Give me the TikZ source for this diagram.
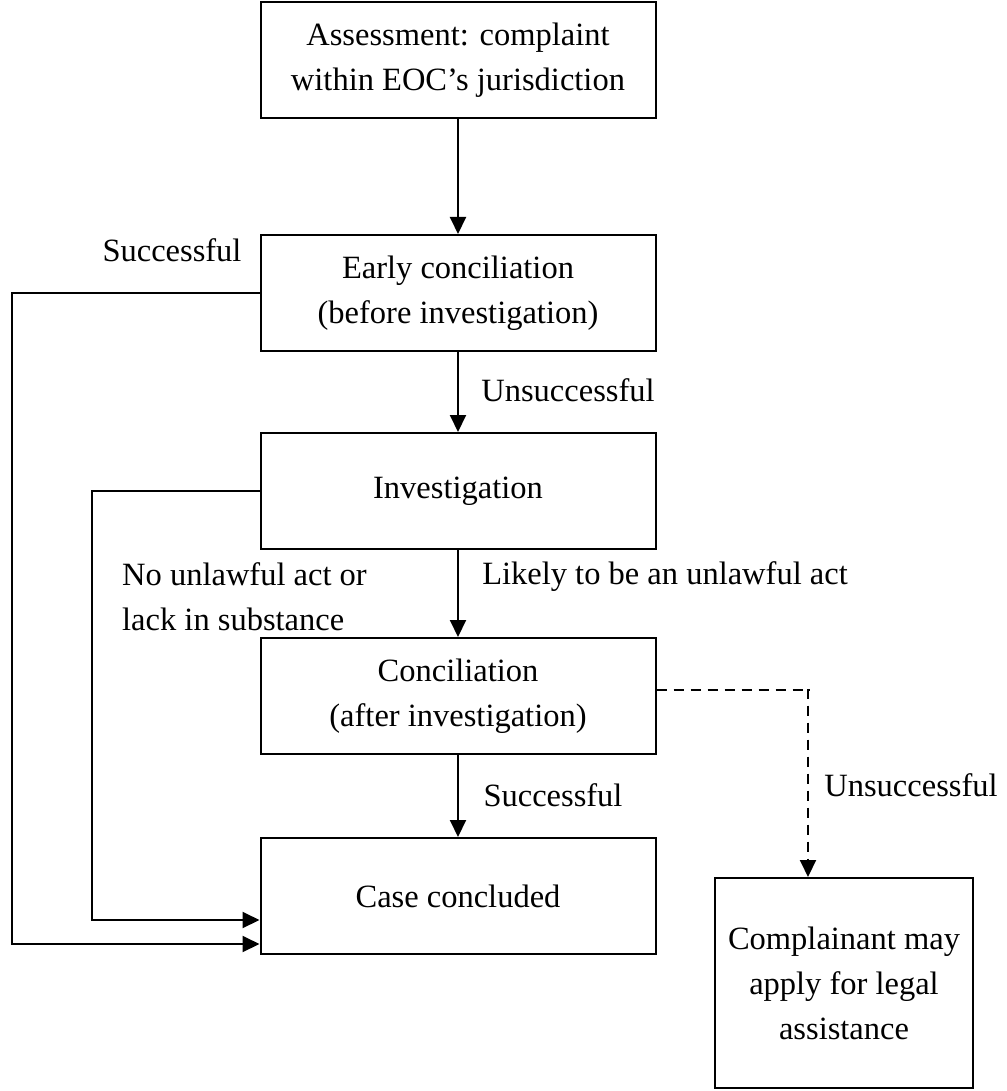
\documentclass[tikz,border=0pt]{standalone}
\usepackage{fontspec}
\setmainfont{Liberation Serif}
\usetikzlibrary{arrows.meta,positioning}

\begin{document}
\begin{tikzpicture}[
    x=1pt, y=-1pt,
    font=\fontsize{32.5}{45}\selectfont,
    node distance=0pt,
    field/.style={draw, minimum width=395pt, minimum height=116pt, align=center, line width=2pt, inner sep=4pt},
    flow/.style={-{Triangle[length=17pt,width=16pt]}, line width=2pt},
    lbl/.style={inner sep=0pt, align=left}
]
\useasboundingbox (0,0) rectangle (1006,1091);

\node[field] (assess) at (458,60) {Assessment: complaint\\within EOC's jurisdiction};
\node[field, below=115pt of assess] (early) {Early conciliation\\(before investigation)};
\node[field, below=80pt of early] (invest) {Investigation};
\node[field, below=87pt of invest] (concil) {Conciliation\\(after investigation)};
\node[field, below=82pt of concil] (closed) {Case concluded};
\node[field, minimum width=258pt, minimum height=210pt] (legal) at (844,983) {Complainant may\\apply for legal\\assistance};

% labels
\node[lbl] (succA) at (172,250) {Successful};
\node[lbl] (unsuccA) at (568,390) {Unsuccessful};
\node[lbl] (likely) at (665,577) {Likely to be an unlawful act};
\node[lbl, anchor=west] (nolaw) at (122,597) {No unlawful act or\\lack in substance};
\node[lbl] (succB) at (553,795) {Successful};
\node[lbl] (unsuccB) at (911,785) {Unsuccessful};

% main flow
\foreach \a/\b in {assess/early, early/invest, invest/concil, concil/closed}
  \draw[flow] (\a.south) -- (\b.north);

% side routes
\draw[flow] (early.west) -- ++(-248,0) |- ([yshift=-48pt]closed.west);
\draw[flow] (invest.west) -- ++(-168,0) |- ([yshift=-24pt]closed.west);
\draw[flow, dash pattern=on 10pt off 7pt] ([yshift=6pt]concil.east) -- ++(153,0) -| ([xshift=-36pt]legal.north);
\end{tikzpicture}
\end{document}
